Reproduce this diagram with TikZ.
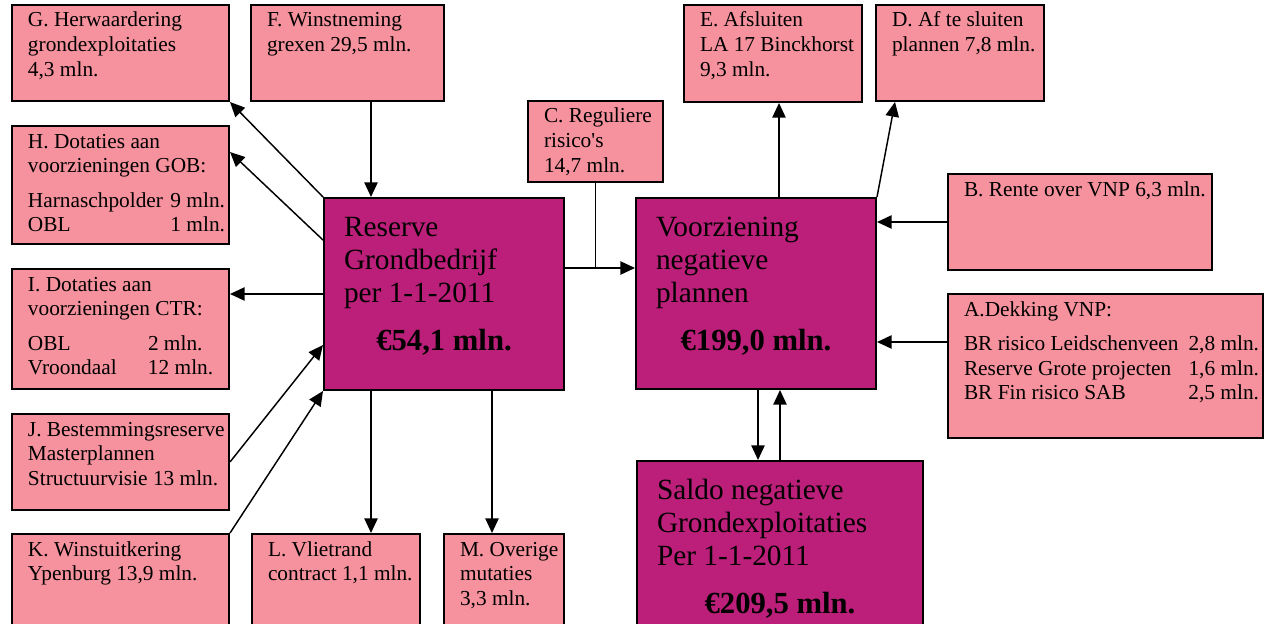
\documentclass[tikz,border=0pt]{standalone}
\usepackage{fontspec}
\setmainfont{Liberation Serif}[Ligatures=TeXOff]
\usetikzlibrary{arrows.meta}

\definecolor{planpink}{RGB}{245,146,157}
\definecolor{planplum}{RGB}{187,31,121}
\newdimen\pxu \pxu=0.75pt
\newcommand{\smallfnt}{\fontsize{16}{18.4}\selectfont}
\newcommand{\bigfnt}{\fontsize{22}{24.75}\selectfont}
\newcommand{\cell}[3]{\parbox[t][#2\pxu][t]{#1\pxu}{\leftskip=16\pxu\rightskip=4\pxu plus 1fil\relax\rule{0pt}{22\pxu}#3}}
\newcommand{\bigcell}[4]{\parbox[t][#2\pxu][t]{#1\pxu}{\leftskip=20\pxu\relax\rule{0pt}{38\pxu}#3\par\vspace{15\pxu}\centering\bfseries\fontsize{23}{24.75}\selectfont #4\par}}

\begin{document}
\begin{tikzpicture}[x=0.75pt, y=-0.75pt, plan/.style={draw, line width=1.5pt, fill=planpink, anchor=north west, inner sep=0pt, font=\smallfnt}, total/.style={plan, fill=planplum, font=\bigfnt}, flow/.style={-{Triangle[length=11pt,width=10pt]}, line width=1.1pt}, link/.style={line width=1.1pt}]
	\useasboundingbox (0,0) rectangle (1266,624);
	\node[plan] (G) at (11,4) {\cell{217}{96}{G. Herwaardering\\grondexploitaties\\4,3 mln.}};
	\node[plan] (F) at (250,4) {\cell{193}{96}{F. Winstneming\\grexen 29,5 mln.}};
	\node[plan] (H) at (11,125) {\cell{217}{118}{H. Dotaties aan\\voorzieningen GOB:\\[10\pxu]Harnaschpolder\hfill 9 mln.\\OBL\hfill 1 mln.}};
	\node[plan] (I) at (11,268) {\cell{217}{120}{I. Dotaties aan\\voorzieningen CTR:\\[10\pxu]\makebox[120\pxu][l]{OBL}2 mln.\\\makebox[120\pxu][l]{Vroondaal}12 mln.}};
	\node[plan] (J) at (11,413) {\cell{217}{96}{J. Bestemmingsreserve\\Masterplannen\\Structuurvisie 13 mln.}};
	\node[plan] (K) at (11,533) {\cell{217}{110}{K. Winstuitkering\\Ypenburg 13,9 mln.}};
	\node[plan] (L) at (251,533) {\cell{168}{110}{L. Vlietrand\\contract 1,1 mln.}};
	\node[plan] (M) at (443,533) {\cell{120}{110}{\mbox{M. Overige}\\mutaties\\3,3 mln.}};
	\node[plan] (C) at (527,100) {\cell{135}{81}{C. Reguliere\\risico's\\14,7 mln.}};
	\node[plan] (E) at (683,4) {\cell{178}{97}{E. Afsluiten\\\mbox{LA 17 Binckhorst}\\9,3 mln.}};
	\node[plan] (D) at (875,4) {\cell{168}{96}{D. Af te sluiten\\plannen 7,8 mln.}};
	\node[plan] (B) at (947,173) {\cell{264}{96}{B. Rente over VNP 6,3 mln.}};
	\node[plan] (A) at (947,293) {\cell{315}{144}{A.Dekking VNP:\\[10\pxu]BR risico Leidschenveen\hfill 2,8 mln.\\Reserve Grote projecten\hfill 1,6 mln.\\BR Fin risico SAB\hfill 2,5 mln.}};
	\node[total] (R) at (323,197) {\bigcell{240}{192}{Reserve\\Grondbedrijf\\per 1-1-2011}{€54,1 mln.}};
	\node[total] (V) at (635,197) {\bigcell{240}{191}{Voorziening\\negatieve\\plannen}{€199,0 mln.}};
	\node[total] (S) at (636,460) {\bigcell{286}{180}{Saldo negatieve\\Grondexploitaties\\Per 1-1-2011}{€209,5 mln.}};
	\draw[flow] ([xshift=48\pxu]R.north west |- F.south) -- ([xshift=48\pxu]R.north west);
	\draw[flow] (R.north west) -- (G.south east);
	\draw[flow] ([yshift=-43\pxu]R.north west) -- ([yshift=-27\pxu]H.north east);
	\draw[flow] (R.west) -- (R.west -| I.east);
	\draw[flow] (J.east) -- ([yshift=-148\pxu]R.north west);
	\draw[flow] (K.north east) -- (R.south west);
	\draw[flow] ([xshift=48\pxu]R.south west) -- ([xshift=48\pxu]R.south west |- L.north);
	\draw[flow] ([xshift=169\pxu]R.south west) -- ([xshift=169\pxu]R.south west |- M.north);
	\coordinate (rv) at ([yshift=-71\pxu]R.north east);
	\draw[flow] (rv) -- (rv -| V.west);
	\draw[link] (C.south) -- (C.south |- rv);
	\draw[flow] ([xshift=144\pxu]V.north west) -- ([xshift=144\pxu]V.north west |- E.south);
	\draw[flow] (V.north east) -- ([xshift=20\pxu]D.south west);
	\draw[flow] (B.west) -- (B.west -| V.east);
	\draw[flow] ([yshift=-49\pxu]A.north west) -- ([yshift=-49\pxu]A.north west -| V.east);
	\draw[flow] ([xshift=2\pxu]V.south) -- ([xshift=2\pxu]V.south |- S.north);
	\draw[flow] (S.north) -- (S.north |- V.south);
\end{tikzpicture}
\end{document}
